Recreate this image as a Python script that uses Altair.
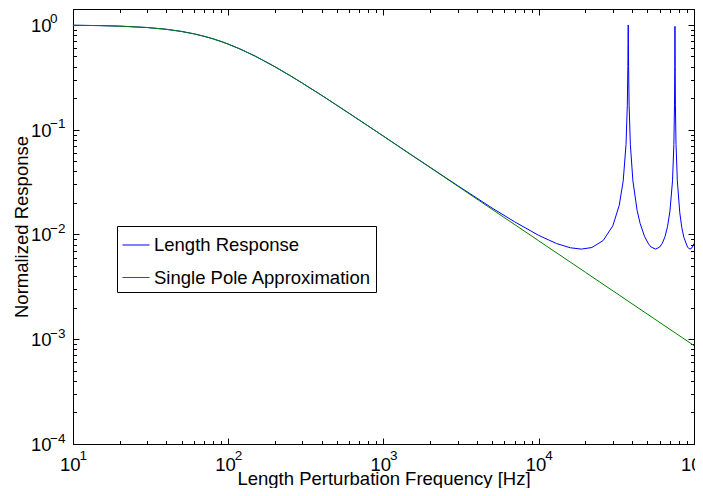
import json
import altair as alt
import pandas as pd

# ---------------- data ----------------
series_names = ["Length Response", "Single Pole Approximation"]
series_colors = ["#0000ff", "#008000"]

freq_length = [10, 15, 20, 30, 40, 50, 60, 70, 80, 90,
               100, 120, 150, 200, 250, 300, 400, 500, 700, 1000,
               1500, 2000, 3000, 4000, 5000, 7000, 10000, 13000, 16000, 18850,
               22000, 26000, 30000, 33000, 35000, 36500, 37200, 37500, 37600, 37700,
               37800, 37900, 38200, 38900, 40400, 43000, 45000, 48000, 51000, 53000,
               56550, 60000, 62500, 65000, 67500, 70000, 72700, 74200, 74900, 75200,
               75300, 75400, 75500, 75600, 75900, 76600, 78100, 81000, 83500, 86000,
               91000, 94250, 97000, 100000]
resp_length = [0.9935, 0.9855, 0.9746, 0.9454, 0.9086, 0.8670, 0.8232, 0.7792, 0.7361, 0.6950,
               0.6563, 0.5870, 0.5017, 0.3989, 0.3287, 0.2786, 0.2126, 0.1714, 0.1233, 0.0867,
               0.0579, 0.0437, 0.0293, 0.0222, 0.0179, 0.0132, 0.0098, 0.0082, 0.00746, 0.00725,
               0.00751, 0.00876, 0.0121, 0.0190, 0.0325, 0.0725, 0.1715, 0.399, 0.656, 1.0,
               0.656, 0.399, 0.1715, 0.0725, 0.0325, 0.0170, 0.0127, 0.0096, 0.0081, 0.00758,
               0.00725, 0.00756, 0.00825, 0.0095, 0.01185, 0.0167, 0.0325, 0.0725, 0.1715, 0.399,
               0.656, 0.97, 0.656, 0.399, 0.1715, 0.0725, 0.0325, 0.0161, 0.0116, 0.0094,
               0.00753, 0.00725, 0.00745, 0.0082]

freq_pole = [10, 15, 20, 30, 40, 50, 60, 70, 80, 90,
             100, 120, 150, 200, 250, 300, 400, 500, 700, 1000,
             1500, 2000, 3000, 5000, 10000, 20000, 50000, 100000]
resp_pole = [0.9935, 0.9855, 0.9746, 0.9454, 0.9086, 0.8670, 0.8232, 0.7792, 0.7361, 0.6950,
             0.6563, 0.5870, 0.5017, 0.3989, 0.3287, 0.2786, 0.2126, 0.1714, 0.1233, 0.0867,
             0.0579, 0.0435, 0.0290, 0.0174, 0.0087, 0.00435, 0.00174, 0.00087]

x_major = [10, 100, 1000, 10000, 100000]
x_minor = [20, 30, 40, 50, 60, 70, 80, 90,
           200, 300, 400, 500, 600, 700, 800, 900,
           2000, 3000, 4000, 5000, 6000, 7000, 8000, 9000,
           20000, 30000, 40000, 50000, 60000, 70000, 80000, 90000]
x_base_labels = ["10", "10", "10", "10", "10"]
x_exp_labels = ["1", "2", "3", "4", "5"]

y_major = [0.0001, 0.001, 0.01, 0.1, 1]
y_minor = [0.0002, 0.0003, 0.0004, 0.0005, 0.0006, 0.0007, 0.0008, 0.0009,
           0.002, 0.003, 0.004, 0.005, 0.006, 0.007, 0.008, 0.009,
           0.02, 0.03, 0.04, 0.05, 0.06, 0.07, 0.08, 0.09,
           0.2, 0.3, 0.4, 0.5, 0.6, 0.7, 0.8, 0.9]
y_base_labels = ["10", "10", "10", "10", "10"]
y_exp_labels = ["\u22124", "\u22123", "\u22122", "\u22121", "0"]

x_title = "Length Perturbation Frequency [Hz]"
y_title = "Normalized Response"

# ---------------- table ----------------
df = pd.concat([
    pd.DataFrame({"f": freq_length, "r": resp_length, "series": series_names[0]}),
    pd.DataFrame({"f": freq_pole, "r": resp_pole, "series": series_names[1]}),
], ignore_index=True)

FONT = "Liberation Sans"
MAJOR = 6
MINOR = 3.5


def lookup_expr(values, labels):
    v = json.dumps(values)
    l = json.dumps(labels, ensure_ascii=False)
    return f"indexof({v}, datum.value) >= 0 ? {l}[indexof({v}, datum.value)] : ''"


common = dict(domain=False, grid=False, labelFlush=False, labelOverlap=False,
              tickColor="black", tickWidth=1, labelColor="black", labelFont=FONT,
              titleFont=FONT, titleColor="black", titleFontWeight="normal")


def label_axis(orient, values, labels, size, align, offset, padding, **kw):
    return alt.Axis(orient=orient, values=values, ticks=False,
                    labelExpr=lookup_expr(values, labels), labelAlign=align,
                    labelBaseline="alphabetic", labelOffset=offset,
                    labelPadding=padding, labelFontSize=size, **kw, **common)


def tick_axis(orient, values, length):
    # inward ticks: axis moved into the plot by the tick length
    return alt.Axis(orient=orient, values=values, ticks=True, tickSize=length,
                    offset=-length, labels=False, title=None, **common)


x_axes = [
    label_axis("bottom", x_major, x_base_labels, 18.5, "right", 7, 26,
               title=x_title, titleFontSize=18.5, titleBaseline="alphabetic", titleY=40.5),
    label_axis("bottom", x_major, x_exp_labels, 13.5, "left", 6, 15.5, title=None),
    tick_axis("bottom", x_major, MAJOR),
    tick_axis("bottom", x_minor, MINOR),
    tick_axis("top", x_major, MAJOR),
    tick_axis("top", x_minor, MINOR),
]
y_axes = [
    label_axis("left", y_major, y_base_labels, 18.5, "right", 6.5, 22,
               title=y_title, titleFontSize=18.5, titleBaseline="alphabetic", titleX=-46),
    label_axis("left", y_major, y_exp_labels, 13.5, "left", -2, 23.5, title=None),
    tick_axis("left", y_major, MAJOR),
    tick_axis("left", y_minor, MINOR),
    tick_axis("right", y_major, MAJOR),
    tick_axis("right", y_minor, MINOR),
]

xs = alt.Scale(type="log", domain=[10, 100000], nice=False)
ys = alt.Scale(type="log", domain=[0.0001, 1.42], nice=False)

base = alt.Chart(df)

lines = base.mark_line(strokeWidth=1).encode(
    x=alt.X("f:Q", scale=xs, axis=x_axes[0]),
    y=alt.Y("r:Q", scale=ys, axis=y_axes[0]),
    color=alt.Color("series:N",
                    scale=alt.Scale(domain=series_names, range=series_colors),
                    legend=alt.Legend(orient="none", legendX=44, legendY=217,
                                      title=None, fillColor="white", strokeColor="black",
                                      padding=5, symbolType="stroke", symbolSize=729,
                                      symbolStrokeWidth=1, labelFont=FONT,
                                      labelFontSize=18.5, labelColor="black",
                                      labelLimit=400, labelOffset=4, rowPadding=8.5)),
)


def ghost(ax, ay):
    return base.mark_line(strokeOpacity=0).encode(
        x=alt.X("f:Q", scale=xs, axis=ax),
        y=alt.Y("r:Q", scale=ys, axis=ay),
        detail="series:N",
    )


layers = [lines] + [ghost(ax, ay) for ax, ay in zip(x_axes[1:], y_axes[1:])]

# total SVG: 65 + 621 + 1 = 687 wide, 1 + 435 + 44 = 480 tall -> fits the page unscaled
chart = alt.layer(*layers).resolve_axis(x="independent", y="independent").properties(
    width=621, height=435,
    autosize=alt.AutoSizeParams(type="none"),
    padding={"left": 65, "top": 1, "right": 1, "bottom": 44},
    background="white",
).configure_view(stroke="black", strokeWidth=1)

chart.save("out.html", embed_options={"renderer": "svg", "actions": False})
